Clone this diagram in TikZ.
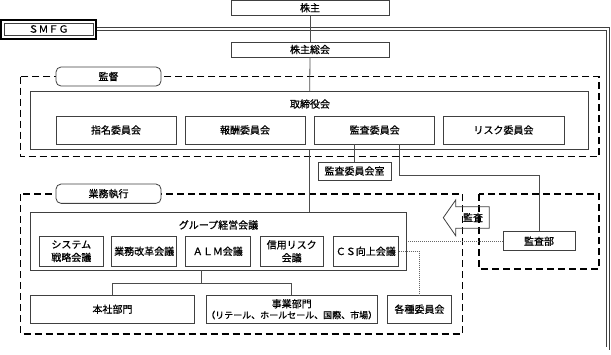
\documentclass[tikz,border=0pt]{standalone}
\usepackage{fontspec}
\setmainfont[FakeBold=0.8]{Noto Sans CJK JP}
\begin{document}
\begin{tikzpicture}[x=1pt,y=-1pt,
  bx/.style={draw=black!75,line width=0.8pt,fill=white,inner sep=0pt,align=center,font=\fontsize{10}{13}\selectfont},
  dashbox/.style={draw=black,line width=1.1pt,dash pattern=on 7pt off 4pt},
  lbl/.style={draw=black!75,line width=0.8pt,fill=white,rounded corners=5pt,inner sep=0pt,font=\fontsize{10}{12}\selectfont},
  conn/.style={draw=black!70,line width=0.8pt},
  dotconn/.style={draw=black!60,line width=0.8pt,dash pattern=on 1pt off 1pt},
  txt/.style={inner sep=0pt,font=\fontsize{10}{12}\selectfont}]
\useasboundingbox (0,0) rectangle (611,354);
% SMFG frame
\draw[draw=black!75,line width=0.8pt,double,double distance=2.2pt] (10.5,29.2) rectangle (608.3,348.5);
% SMFG label
\draw[line width=1.6pt,fill=white] (0.8,20) rectangle (96,39);
\node[bx,minimum width=89pt,minimum height=12pt] (smfg) at (48.5,29) {ＳＭＦＧ};
% top
\node[bx,minimum width=158pt,minimum height=15pt] (kabunushi) at (310,7.8) {株主};
\node[bx,minimum width=158pt,minimum height=15pt] (soukai) at (310,49.5) {株主総会};
% supervision
\draw[dashbox] (20.7,76.7) rectangle (599,156.7);
\node[lbl,minimum width=105pt,minimum height=19pt] (kantoku) at (108.5,76.5) {監督};
\node[bx,minimum width=558pt,minimum height=57.6pt] (tori) at (309.7,120.5) {};
\node[txt] (torilbl) at (310,104) {取締役会};
\node[bx,minimum width=120pt,minimum height=28pt] (shimei) at (116,130) {指名委員会};
\node[bx,minimum width=120pt,minimum height=28pt] (houshu) at (245,130) {報酬委員会};
\node[bx,minimum width=120pt,minimum height=28pt] (kansa) at (374.7,130) {監査委員会};
\node[bx,minimum width=121pt,minimum height=28pt] (risk) at (503.5,130) {リスク委員会};
\node[bx,minimum width=73pt,minimum height=18pt] (kansashitsu) at (354.5,171) {監査委員会室};
% audit dept
\draw[dashbox] (479,194) rectangle (599,269);
\node[bx,minimum width=72pt,minimum height=19pt] (kansabu) at (539,241.2) {監査部};
% execution
\draw[dashbox] (20.7,194) rectangle (462.7,334);
\node[lbl,minimum width=105pt,minimum height=19.3pt] (gyomu) at (108.5,193.7) {業務執行};
\node[bx,minimum width=376pt,minimum height=57.7pt] (group) at (218.7,241.2) {};
\node[txt] (grouplbl) at (218.5,225) {グループ経営会議};
\node[bx,minimum width=64pt,minimum height=29.3pt] (sys) at (71.3,251.3) {システム\\戦略会議};
\node[bx,minimum width=65pt,minimum height=29.3pt] (kaikaku) at (144.2,251.3) {業務改革会議};
\node[bx,minimum width=64.3pt,minimum height=29.3pt] (alm) at (217.8,251.3) {ＡＬＭ会議};
\node[bx,minimum width=63.3pt,minimum height=29.3pt] (shinyo) at (291.7,251.3) {信用リスク\\会議};
\node[bx,minimum width=65pt,minimum height=29.3pt] (cs) at (365.8,251.3) {ＣＳ向上会議};
\node[bx,minimum width=163.6pt,minimum height=28.3pt] (honsha) at (112.5,309.2) {本社部門};
\node[bx,minimum width=164.7pt,minimum height=28.3pt,font=\fontsize{9}{11}\selectfont] (jigyo) at (291.7,309.2) {\fontsize{10}{11}\selectfont 事業部門\\（リテール、ホールセール、国際、市場）};
\node[bx,minimum width=64.4pt,minimum height=28.3pt] (kakushu) at (419.5,309.2) {各種委員会};
% audit arrow
\draw[draw=black!75,line width=0.8pt] (443.3,217.7) -- (455.7,200) -- (455.7,206.7) -- (489.3,206.7) -- (489.3,228.3) -- (455.7,228.3) -- (455.7,235.7) -- cycle;
\node[txt] (kansaarrow) at (473,217.5) {監査};
% connectors
\draw[conn] (kabunushi.south) -- (soukai.north);
\draw[conn] (soukai.south) -- (tori.north);
\draw[conn] (tori.south) -- (tori.south |- group.north);
\draw[conn] (kansashitsu.north |- kansa.south) -- (kansashitsu.north);
\coordinate (k2) at (399,144);
\draw[conn] (k2) -- (399,175.7) -| (kansabu.north);
\coordinate (g1) at (201.7,270);
\draw[conn] (g1) -- (201.7,283.3);
\draw[conn] (honsha.north) -- ++(0,-11.7) -| (jigyo.north);
\draw[dotconn] (kansabu.west) -- (kansabu.west -| group.east);
\draw[dotconn] (cs.east) -| (kakushu.north);
\end{tikzpicture}
\end{document}
